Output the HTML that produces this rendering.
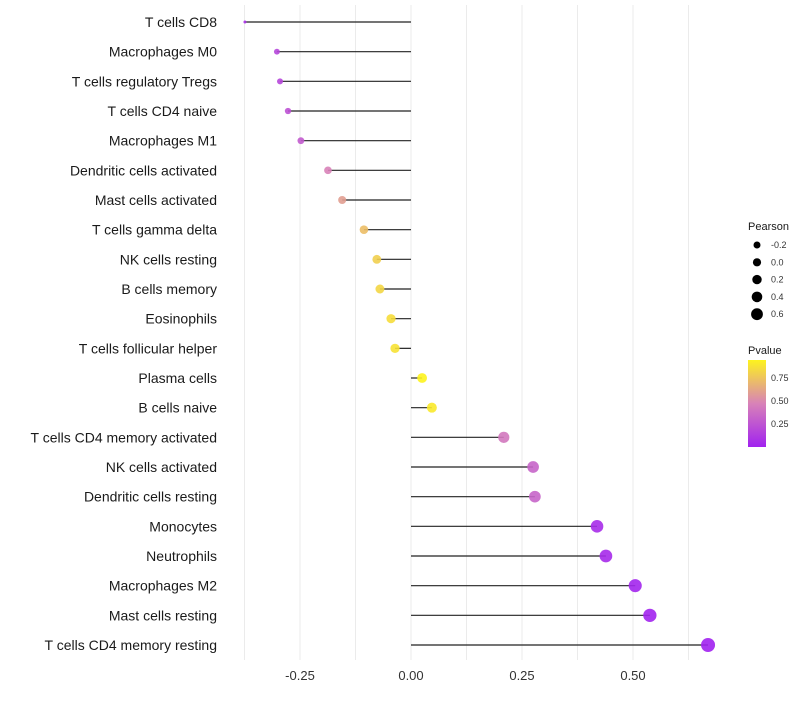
<!DOCTYPE html>
<html><head><meta charset="utf-8"><style>
body{margin:0;background:#fff;font-family:"Liberation Sans",sans-serif}
</style></head><body>
<svg id="chart" width="800" height="700" xmlns="http://www.w3.org/2000/svg" font-family="Liberation Sans, sans-serif"></svg>
<script>
const categories=["T cells CD8","Macrophages M0","T cells regulatory  Tregs ","T cells CD4 naive","Macrophages M1","Dendritic cells activated","Mast cells activated","T cells gamma delta","NK cells resting","B cells memory","Eosinophils","T cells follicular helper","Plasma cells","B cells naive","T cells CD4 memory activated","NK cells activated","Dendritic cells resting","Monocytes","Neutrophils","Macrophages M2","Mast cells resting","T cells CD4 memory resting"];
const pearson=[-0.374,-0.302,-0.295,-0.277,-0.248,-0.187,-0.155,-0.106,-0.077,-0.070,-0.045,-0.036,0.025,0.047,0.209,0.275,0.279,0.419,0.439,0.505,0.538,0.669];
const pvalues=[0.08,0.2,0.2,0.25,0.3,0.5,0.62,0.75,0.82,0.85,0.88,0.9,0.97,0.93,0.45,0.35,0.35,0.06,0.05,0.03,0.02,0.005];
const xTicks=[-0.25,0,0.25,0.5];
const xTickLabels=["-0.25","0.00","0.25","0.50"];
const sizeLegend=[-0.2,0.0,0.2,0.4,0.6];
const colorLegend=[0.25,0.5,0.75];
const NS="http://www.w3.org/2000/svg";
const svg=document.getElementById('chart');
const x=v=>411+v*444;
const y=i=>22+i*(623/21);
const r=v=>1.5+5.5*Math.sqrt(Math.max(0,(v+0.374)/1.043));
function lerp(a,b,t){return a.map((c,i)=>Math.round(c+(b[i]-c)*t));}
function col(p){const c0=[160,32,240],c1=[216,130,184],c2=[255,250,20];
 const c=p<0.5?lerp(c0,c1,p/0.5):lerp(c1,c2,(p-0.5)/0.5);return `rgb(${c.join(',')})`;}
function el(t,a,p){const e=document.createElementNS(NS,t);for(const k in a)e.setAttribute(k,a[k]);(p||svg).appendChild(e);return e;}
for(let v=-0.375;v<=0.7;v+=0.125){
 const g=el('line',{x1:x(v),x2:x(v),y1:5,y2:660,stroke:'#ebebeb','stroke-width':1});
 
 
}
xTicks.forEach((v,i)=>{
 const t=el('text',{x:x(v),y:680,'text-anchor':'middle','font-size':13,fill:'#333'});t.textContent=xTickLabels[i];
 
 
});
categories.forEach((c,i)=>{
 const t=el('text',{x:217,y:y(i)+5,'text-anchor':'end','font-size':14,fill:'#1a1a1a'});t.textContent=c;
 
 
 const ln=el('line',{x1:x(0),x2:x(pearson[i]),y1:y(i),y2:y(i),stroke:'#222','stroke-width':1.2});
 
 
 const d=el('circle',{cx:x(pearson[i]),cy:y(i),r:r(pearson[i]),fill:col(pvalues[i]),'fill-opacity':0.9});
 
 
});
const lt=el('text',{x:748,y:230,'font-size':11,fill:'#1a1a1a'});lt.textContent='Pearson';


sizeLegend.forEach((v,i)=>{
 const cy=245+i*17.3;
 const c=el('circle',{cx:757,cy:cy,r:3.5+i*0.6,fill:'#000'});
 
 
 const t=el('text',{x:771,y:cy+3,'font-size':9,fill:'#333'});t.textContent=v.toFixed(1);
 
 
});
const pt=el('text',{x:748,y:354,'font-size':11,fill:'#1a1a1a'});pt.textContent='Pvalue';


const defs=el('defs',{});const gr=el('linearGradient',{id:'pg',x1:0,y1:1,x2:0,y2:0},defs);
[[0,col(0.01)],[0.5,col(0.5)],[1,col(0.97)]].forEach(s=>el('stop',{offset:s[0],'stop-color':s[1]},gr));
const bar=el('rect',{x:748,y:360,width:18,height:87,fill:'url(#pg)'});


colorLegend.forEach(v=>{
 const cy=447-v*92;
 const t=el('text',{x:771,y:cy+3,'font-size':9,fill:'#333'});t.textContent=v.toFixed(2);
 
 
});
</script>
</body></html>
